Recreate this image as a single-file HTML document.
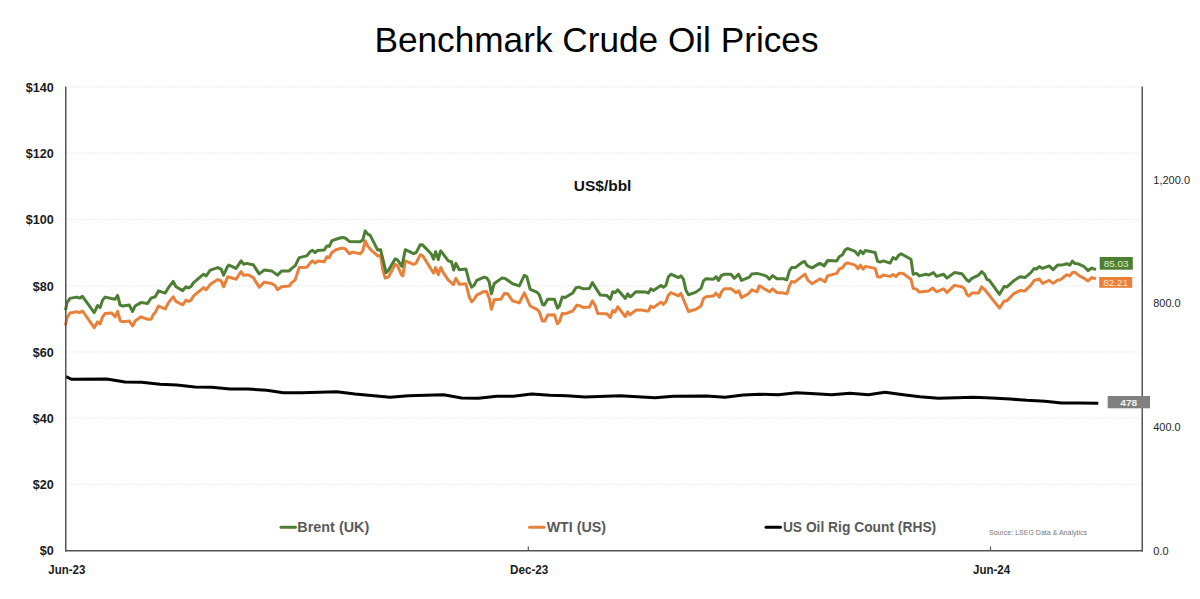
<!DOCTYPE html>
<html><head><meta charset="utf-8"><title>Benchmark Crude Oil Prices</title>
<style>
html,body{margin:0;padding:0;background:#fff;}
body{width:1200px;height:599px;overflow:hidden;font-family:"Liberation Sans",sans-serif;}
svg{display:block;font-family:"Liberation Sans",sans-serif;}
</style></head><body>
<svg width="1200" height="599" viewBox="0 0 1200 599">
<rect width="1200" height="599" fill="#fff"/>
<text x="596.5" y="52" font-size="35" fill="#000" text-anchor="middle" textLength="444" lengthAdjust="spacingAndGlyphs">Benchmark Crude Oil Prices</text>
<g stroke="#e6e6e6" stroke-width="1" stroke-dasharray="1.6 1.4" fill="none"><line x1="67" x2="1141" y1="86.8" y2="86.8"/><line x1="67" x2="1141" y1="153.3" y2="153.3"/><line x1="67" x2="1141" y1="219.5" y2="219.5"/><line x1="67" x2="1141" y1="285.8" y2="285.8"/><line x1="67" x2="1141" y1="352.0" y2="352.0"/><line x1="67" x2="1141" y1="418.2" y2="418.2"/><line x1="67" x2="1141" y1="484.3" y2="484.3"/></g>
<g font-size="12.6" font-weight="bold" fill="#1a1a1a"><text x="53.7" y="91.7" text-anchor="end">$140</text><text x="53.7" y="158.2" text-anchor="end">$120</text><text x="53.7" y="224.4" text-anchor="end">$100</text><text x="53.7" y="290.7" text-anchor="end">$80</text><text x="53.7" y="356.9" text-anchor="end">$60</text><text x="53.7" y="423.1" text-anchor="end">$40</text><text x="53.7" y="489.2" text-anchor="end">$20</text><text x="53.7" y="555.4" text-anchor="end">$0</text></g>
<g font-size="11" fill="#262626"><text x="1153.3" y="183.8" textLength="36.7" lengthAdjust="spacingAndGlyphs">1,200.0</text><text x="1153.3" y="307.3" textLength="27.3" lengthAdjust="spacingAndGlyphs">800.0</text><text x="1153.3" y="430.9" textLength="27.3" lengthAdjust="spacingAndGlyphs">400.0</text><text x="1153.3" y="554.5" textLength="15.3" lengthAdjust="spacingAndGlyphs">0.0</text></g>
<g font-size="12.3" font-weight="bold" fill="#1a1a1a" text-anchor="middle">
<text x="66.8" y="573.5" textLength="37" lengthAdjust="spacingAndGlyphs">Jun-23</text>
<text x="529.2" y="573.5" textLength="38.3" lengthAdjust="spacingAndGlyphs">Dec-23</text>
<text x="991.6" y="573.5" textLength="37.2" lengthAdjust="spacingAndGlyphs">Jun-24</text>
</g>
<text x="573.8" y="190.9" font-size="14.5" font-weight="bold" fill="#111" textLength="57.6" lengthAdjust="spacingAndGlyphs">US$/bbl</text>
<path d="M65.5,325.5 L67.0,317.6 L70.0,313.0 L76.7,311.8 L79.7,312.6 L82.5,311.0 L94.2,327.7 L97.6,321.8 L100.1,324.0 L102.6,316.8 L105.1,313.5 L111.8,313.0 L115.1,316.8 L117.6,311.3 L120.1,320.7 L122.6,321.8 L129.3,321.0 L132.6,326.0 L135.1,321.0 L141.0,316.8 L147.6,319.3 L151.0,319.3 L153.5,314.3 L155.2,312.6 L158.5,306.0 L165.2,309.0 L168.5,302.6 L173.2,296.8 L176.0,301.5 L182.7,304.8 L186.0,300.1 L188.5,301.5 L191.1,300.1 L193.6,295.9 L203.6,287.6 L206.1,289.8 L210.3,284.3 L217.8,279.6 L221.1,280.9 L223.6,286.8 L227.8,276.7 L236.1,279.2 L241.1,271.7 L243.6,275.4 L247.0,274.7 L250.3,275.9 L253.3,277.6 L259.2,287.3 L264.2,282.1 L271.7,283.5 L275.0,285.5 L277.5,289.8 L281.7,286.8 L289.2,286.0 L291.7,282.6 L295.1,280.1 L299.2,267.6 L306.8,267.3 L310.1,263.1 L312.6,260.9 L315.1,263.1 L317.6,260.9 L324.3,261.8 L326.8,256.7 L329.3,257.6 L331.8,252.6 L336.0,249.7 L341.8,248.1 L345.2,248.7 L349.3,253.7 L352.7,252.1 L360.2,253.7 L362.7,250.9 L365.2,240.9 L367.7,245.9 L370.2,249.2 L377.7,255.9 L380.6,255.4 L382.7,269.3 L385.2,278.1 L388.6,276.8 L395.2,264.3 L397.7,265.9 L401.1,274.3 L402.8,275.9 L405.3,260.9 L413.6,264.3 L416.1,263.1 L420.3,254.7 L422.8,255.9 L431.1,269.3 L433.6,273.1 L435.6,267.6 L438.3,274.8 L440.3,268.4 L440.8,267.6 L443.3,272.6 L448.3,280.1 L453.4,284.6 L455.9,278.4 L459.2,284.2 L465.9,283.7 L469.2,296.8 L471.7,301.8 L474.2,299.3 L476.7,295.1 L484.2,291.4 L486.7,291.8 L489.2,298.1 L491.4,309.3 L494.3,299.8 L500.9,299.3 L504.3,293.4 L507.6,293.8 L512.6,300.9 L519.3,302.9 L524.3,292.9 L530.2,306.0 L536.8,309.3 L539.3,311.8 L542.3,321.0 L544.8,321.0 L547.7,315.1 L554.4,314.8 L557.4,323.8 L559.4,321.8 L562.2,313.5 L565.2,313.8 L572.7,311.0 L576.9,305.1 L579.4,305.6 L583.6,307.6 L589.4,307.1 L592.4,300.9 L594.9,305.1 L597.8,313.5 L606.9,313.8 L610.3,317.6 L612.8,310.5 L615.0,312.1 L617.8,306.8 L625.3,316.5 L627.8,311.8 L630.0,314.8 L635.8,310.1 L641.7,310.1 L646.7,311.0 L648.4,311.0 L650.9,306.0 L653.4,307.6 L660.9,302.1 L663.4,304.3 L665.9,301.8 L668.4,295.1 L670.9,292.6 L678.4,295.9 L680.9,293.4 L683.4,299.3 L688.4,311.5 L695.9,309.3 L701.0,306.0 L703.5,298.4 L706.0,296.8 L713.5,295.9 L716.0,293.1 L719.3,297.1 L721.5,291.8 L724.3,288.8 L731.0,288.8 L736.0,292.6 L738.8,290.9 L741.5,297.6 L748.5,293.8 L751.9,289.8 L756.9,291.8 L759.4,285.9 L769.4,291.8 L772.7,288.8 L776.9,292.6 L783.6,293.1 L786.9,293.9 L789.4,285.9 L791.6,281.4 L794.4,282.2 L802.0,276.4 L805.0,274.2 L807.8,280.1 L812.0,283.7 L819.5,279.2 L820.0,278.8 L825.0,281.8 L827.5,275.9 L836.7,273.4 L839.2,269.2 L842.5,267.6 L845.0,264.2 L847.5,262.9 L855.1,265.1 L858.1,268.7 L860.4,265.1 L863.1,269.2 L865.4,266.4 L875.1,268.4 L877.6,276.8 L880.1,277.1 L883.4,275.1 L890.1,276.4 L893.0,274.6 L896.0,276.4 L898.5,273.7 L901.0,273.1 L903.5,273.7 L911.0,279.3 L913.2,288.4 L916.5,289.3 L919.3,292.1 L928.5,290.9 L932.7,288.1 L936.5,291.8 L943.5,288.8 L946.9,292.6 L954.4,285.4 L961.9,286.8 L964.4,288.4 L966.9,294.3 L968.9,296.0 L971.9,293.1 L978.6,293.1 L981.6,286.8 L984.4,289.3 L999.5,308.1 L1004.2,300.9 L1006.7,300.9 L1014.2,293.4 L1020.0,290.6 L1025.0,290.9 L1030.9,285.1 L1034.2,280.4 L1039.2,278.9 L1042.6,283.4 L1049.2,280.4 L1053.1,283.4 L1057.6,280.1 L1059.8,280.1 L1066.8,274.7 L1069.8,275.9 L1072.3,272.6 L1074.8,272.2 L1079.3,275.9 L1084.3,278.4 L1088.1,280.9 L1091.8,277.6 L1096.0,278.9" fill="none" stroke="#e8803a" stroke-width="3" stroke-linejoin="round" stroke-linecap="butt"/>
<path d="M65.5,310.1 L67.0,302.6 L70.0,298.4 L76.7,297.1 L79.7,298.1 L82.5,296.4 L94.2,312.6 L97.6,305.5 L100.1,307.6 L102.6,300.1 L105.1,297.1 L115.1,299.3 L117.6,295.4 L120.1,305.1 L122.6,306.0 L129.3,305.1 L132.6,311.5 L135.1,306.0 L141.0,302.6 L147.6,303.5 L151.0,298.1 L155.2,296.8 L158.5,290.9 L165.2,293.1 L168.5,287.6 L173.2,281.4 L176.0,286.8 L182.7,290.6 L186.0,286.8 L188.5,287.9 L191.1,286.4 L193.6,282.6 L203.6,274.2 L206.1,275.9 L210.3,270.1 L217.8,267.6 L221.1,269.2 L223.6,275.1 L227.8,265.9 L228.9,265.1 L236.1,268.4 L241.1,260.9 L243.6,264.2 L247.0,263.4 L250.3,264.2 L253.3,264.8 L259.2,273.9 L264.2,270.1 L271.7,270.9 L277.5,275.1 L281.7,270.9 L289.2,270.9 L291.7,268.4 L295.1,265.9 L299.2,257.6 L306.8,255.9 L310.1,251.7 L312.6,250.4 L315.1,252.6 L317.6,250.4 L324.3,250.1 L326.8,245.9 L329.3,246.4 L331.8,240.9 L336.0,239.2 L341.8,237.5 L345.2,238.0 L349.3,241.4 L360.2,241.7 L362.7,240.1 L365.2,230.9 L367.7,234.2 L370.2,235.4 L377.7,250.1 L380.6,249.7 L386.1,272.6 L388.6,270.1 L395.2,258.7 L397.7,260.1 L401.9,266.4 L405.3,249.7 L413.6,253.7 L416.1,252.6 L420.3,244.7 L422.8,245.1 L431.1,253.7 L433.6,259.2 L435.6,251.7 L438.3,259.6 L440.3,251.7 L440.8,250.9 L448.3,260.9 L451.4,261.7 L453.7,270.1 L455.9,263.4 L459.2,269.7 L465.9,268.9 L469.2,281.7 L471.7,287.1 L474.2,285.1 L476.7,280.4 L484.2,277.2 L486.7,277.9 L489.2,281.7 L491.4,293.8 L494.3,283.4 L501.8,278.1 L505.1,278.4 L512.6,283.7 L519.3,285.9 L524.3,275.4 L526.8,276.7 L530.2,289.3 L536.8,292.1 L539.3,294.8 L542.7,304.8 L544.3,305.1 L547.7,299.3 L554.4,299.3 L557.4,308.1 L559.4,306.0 L562.2,297.1 L565.2,297.6 L572.7,292.9 L576.1,287.6 L578.6,287.1 L583.6,288.8 L589.4,288.4 L592.4,282.6 L600.3,295.1 L606.9,295.4 L610.3,299.3 L612.8,291.8 L615.3,292.6 L617.8,289.8 L625.3,298.4 L627.8,293.8 L630.0,296.8 L631.7,295.9 L635.8,291.8 L645.9,292.1 L648.4,293.1 L650.9,288.8 L653.4,290.4 L660.9,285.4 L663.4,287.3 L665.9,285.4 L668.4,276.7 L670.9,274.2 L678.4,277.6 L680.9,275.9 L683.4,279.2 L685.9,290.1 L688.4,294.8 L695.9,292.1 L701.0,288.4 L703.5,280.9 L706.0,278.7 L713.5,279.2 L716.0,276.7 L718.5,280.4 L721.0,275.9 L724.3,274.2 L731.0,274.2 L734.3,278.4 L738.5,274.2 L741.5,280.4 L749.4,277.1 L751.9,273.9 L756.9,273.4 L763.6,275.1 L766.9,276.4 L769.4,279.2 L772.7,275.6 L776.9,278.7 L783.6,278.7 L786.9,279.7 L789.4,270.9 L791.6,267.6 L795.3,267.6 L802.0,262.5 L804.5,261.4 L807.0,265.6 L812.0,267.9 L819.5,263.4 L820.0,263.4 L824.2,265.9 L827.5,260.6 L836.7,260.9 L839.2,256.7 L842.5,254.7 L845.0,250.0 L847.5,248.4 L855.1,251.4 L858.1,255.1 L860.4,250.9 L863.1,253.7 L865.4,250.5 L875.1,252.5 L877.6,261.4 L880.1,262.1 L883.4,260.9 L890.1,263.1 L893.0,257.6 L896.0,259.2 L898.5,255.4 L901.0,253.7 L911.0,259.2 L913.2,274.2 L916.5,273.4 L919.3,275.9 L926.0,274.2 L928.5,275.1 L933.5,272.6 L936.5,276.4 L943.5,274.2 L946.9,278.1 L954.4,272.6 L961.9,273.7 L966.9,280.1 L968.9,281.4 L971.9,278.4 L978.6,275.1 L981.6,271.7 L984.4,274.2 L986.9,279.3 L989.4,280.4 L999.5,294.3 L1004.2,286.4 L1006.7,287.1 L1014.2,280.4 L1020.0,276.7 L1025.0,277.6 L1030.9,272.6 L1034.2,268.4 L1036.4,269.2 L1039.2,266.7 L1042.6,268.4 L1049.2,265.9 L1053.1,269.6 L1057.6,265.1 L1061.8,265.1 L1066.8,263.7 L1069.8,265.1 L1072.3,261.2 L1074.8,263.4 L1077.6,263.7 L1084.3,266.7 L1088.1,270.6 L1091.8,268.1 L1096.0,269.6" fill="none" stroke="#4c7f34" stroke-width="3" stroke-linejoin="round" stroke-linecap="butt"/>
<path d="M66.0,376.7 L71.7,379.3 L106.7,379.0 L125.0,382.0 L141.7,382.3 L160.0,384.3 L176.7,385.0 L195.0,387.0 L211.7,387.3 L230.0,389.0 L248.3,389.0 L266.7,390.3 L283.3,392.7 L301.7,392.7 L336.7,391.7 L355.0,394.0 L390.0,397.3 L408.3,395.7 L443.3,394.7 L445.0,395.0 L461.7,398.0 L478.3,398.3 L496.7,396.3 L513.3,396.3 L531.7,394.0 L550.0,395.3 L566.7,395.7 L585.0,397.0 L620.0,395.7 L655.0,397.7 L673.3,396.3 L706.7,396.0 L725.0,397.3 L743.3,395.0 L760.0,394.3 L778.3,394.7 L796.7,392.7 L815.0,393.7 L831.7,394.7 L850.0,393.3 L868.3,394.7 L885.0,392.3 L903.3,394.7 L920.0,396.7 L938.3,398.3 L956.7,397.7 L973.3,397.3 L991.7,398.0 L1010.0,399.0 L1026.7,400.3 L1045.0,401.3 L1061.7,403.0 L1080.0,403.0 L1098.3,403.3" fill="none" stroke="#000" stroke-width="3" stroke-linejoin="round" stroke-linecap="butt"/>
<g stroke="#555" stroke-width="1.5" fill="none">
<line x1="65.75" x2="65.75" y1="86.5" y2="551.5"/>
<line x1="1142.25" x2="1142.25" y1="86.5" y2="551.5"/>
<line x1="65" x2="1143" y1="550.75" y2="550.75"/>
</g>
<g stroke="#555" stroke-width="1.2" fill="none">
<line x1="528.3" x2="528.3" y1="546.5" y2="550.5"/>
<line x1="990.5" x2="990.5" y1="546.5" y2="550.5"/>
</g>
<rect x="1099.7" y="257" width="33.1" height="12.7" fill="#4c7f34"/>
<text x="1116.2" y="266.9" font-size="9.6" fill="#dcf0cc" text-anchor="middle" textLength="25" lengthAdjust="spacingAndGlyphs">85.03</text>
<rect x="1099.2" y="277" width="33" height="10.8" fill="#e8803a"/>
<text x="1115.7" y="285.9" font-size="9.6" fill="#fde6cc" text-anchor="middle" textLength="25" lengthAdjust="spacingAndGlyphs">82.21</text>
<rect x="1107.7" y="396" width="42.3" height="12.3" fill="#808080"/>
<text x="1128.8" y="405.6" font-size="9.6" font-weight="bold" fill="#f2f2f2" text-anchor="middle" textLength="17" lengthAdjust="spacingAndGlyphs">478</text>
<g stroke-width="3" fill="none" stroke-linecap="round">
<line x1="281" x2="295.5" y1="527.3" y2="527.3" stroke="#4c7f34"/>
<line x1="529.5" x2="544" y1="527.3" y2="527.3" stroke="#e8803a"/>
<line x1="766" x2="780.5" y1="527.3" y2="527.3" stroke="#000"/>
</g>
<g font-size="14.8" font-weight="bold" fill="#595959">
<text x="297.3" y="532.2" textLength="72" lengthAdjust="spacingAndGlyphs">Brent (UK)</text>
<text x="546.7" y="532.2" textLength="59.3" lengthAdjust="spacingAndGlyphs">WTI (US)</text>
<text x="782.9" y="532.2" textLength="153.3" lengthAdjust="spacingAndGlyphs">US Oil Rig Count (RHS)</text>
</g>
<text x="989" y="535" font-size="6.8" fill="#7a7a7a" textLength="98" lengthAdjust="spacingAndGlyphs">Source: LSEG Data &amp; Analytics</text>
</svg>
</body></html>
